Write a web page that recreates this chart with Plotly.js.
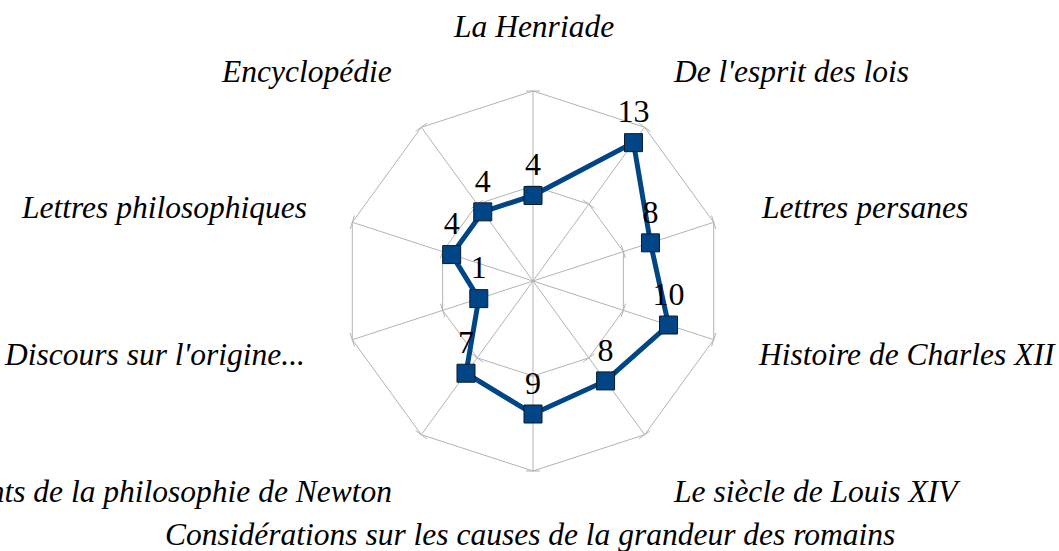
<!DOCTYPE html>
<html>
<head>
<meta charset="utf-8">
<script src="https://cdn.plot.ly/plotly-3.0.1.min.js"></script>
<style>
  html, body { margin: 0; padding: 0; background: #ffffff; }
  #chart { width: 1059px; height: 551px; }
</style>
</head>
<body>
<div id="chart"></div>
<script>
// ---- data ----
const categories = [
  "La Henriade",
  "De l'esprit des lois",
  "Lettres persanes",
  "Histoire de Charles XII",
  "Le siècle de Louis XIV",
  "Considérations sur les causes de la grandeur des romains",
  "Éléments de la philosophie de Newton",
  "Discours sur l'origine...",
  "Lettres philosophiques",
  "Encyclopédie"
];
const values = [4, 13, 8, 10, 8, 9, 7, 1, 4, 4];
const radialTicks = [-5, 5, 15];

// ---- layout helpers ----
const W = 1059, H = 551;
const FONT = "Liberation Serif";
const labelLayout = [
  {x: 533, y: 26,  anchor: "center"},
  {x: 671, y: 71,  anchor: "left"},
  {x: 759, y: 208, anchor: "left"},
  {x: 756, y: 354, anchor: "left"},
  {x: 671, y: 491, anchor: "left"},
  {x: 530, y: 534, anchor: "center"},
  {x: 394, y: 491, anchor: "right"},
  {x: 307, y: 354, anchor: "right"},
  {x: 309, y: 208, anchor: "right"},
  {x: 394, y: 71,  anchor: "right"}
];

const closedTheta = categories.concat([categories[0]]);
const closedR = values.concat([values[0]]);

// small perpendicular tick marks at the grid polygon vertices
const tickTheta = [], tickR = [], tickAngle = [];
[radialTicks[1], radialTicks[2]].forEach(rv => {
  categories.forEach((c, i) => {
    tickTheta.push(c); tickR.push(rv); tickAngle.push(i * 360 / categories.length);
  });
});

const traces = [
  // grid-only subplot
  {type: "scatterpolar", subplot: "polar", r: [], theta: [], mode: "markers", hoverinfo: "skip", showlegend: false},
  {
    type: "scatterpolar", subplot: "polar2",
    r: tickR, theta: tickTheta, mode: "markers",
    marker: {symbol: "line-ew", size: 10, angle: tickAngle, line: {color: "#b3b3b3", width: 1}},
    hoverinfo: "skip", showlegend: false
  },
  {
    type: "scatterpolar", subplot: "polar2",
    r: closedR, theta: closedTheta, mode: "lines",
    line: {color: "#004586", width: 5},
    hoverinfo: "skip", showlegend: false
  },
  {
    type: "scatterpolar", subplot: "polar2",
    r: values, theta: categories, mode: "markers+text",
    text: values.map(String), textposition: "top center",
    textfont: {family: FONT, size: 32, color: "#000000"},
    marker: {symbol: "square", size: 18, color: "#004586", line: {color: "#0d1b2a", width: 1}},
    showlegend: false
  }
];

const annotations = categories.map((c, i) => ({
  text: c,
  xref: "paper", yref: "paper",
  x: labelLayout[i].x / W,
  y: 1 - labelLayout[i].y / H,
  xanchor: labelLayout[i].anchor,
  yanchor: "middle",
  showarrow: false,
  font: {family: FONT, size: 31.5, color: "#000000", style: "italic"}
}));

const cx = 533, cy = 281, R = 190;
const dom = {
  x: [(cx - R) / W, (cx + R) / W],
  y: [(H - cy - R) / H, (H - cy + R) / H]
};
const layout = {
  width: W, height: H,
  margin: {l: 0, r: 0, t: 0, b: 0},
  paper_bgcolor: "#ffffff",
  plot_bgcolor: "#ffffff",
  font: {family: FONT},
  showlegend: false,
  annotations: annotations,
  polar: {
    domain: dom,
    bgcolor: "rgba(0,0,0,0)",
    gridshape: "linear",
    radialaxis: {
      range: [radialTicks[0], radialTicks[2]],
      tickvals: radialTicks,
      showticklabels: false, ticks: "", showline: false,
      gridcolor: "#b3b3b3", gridwidth: 1
    },
    angularaxis: {
      type: "category", categoryarray: categories,
      rotation: 90, direction: "clockwise",
      showticklabels: false, ticks: "",
      showline: true, linecolor: "#b3b3b3", linewidth: 1,
      gridcolor: "#b3b3b3", gridwidth: 1
    }
  },
  polar2: {
    domain: dom,
    hole: 0.25,
    bgcolor: "rgba(0,0,0,0)",
    gridshape: "linear",
    radialaxis: {
      range: [0, radialTicks[2]],
      showgrid: false, showticklabels: false, ticks: "", showline: false
    },
    angularaxis: {
      type: "category", categoryarray: categories,
      rotation: 90, direction: "clockwise",
      showgrid: false, showticklabels: false, ticks: "", showline: false
    }
  }
};

Plotly.newPlot("chart", traces, layout, {displayModeBar: false, staticPlot: true});
</script>
</body>
</html>
